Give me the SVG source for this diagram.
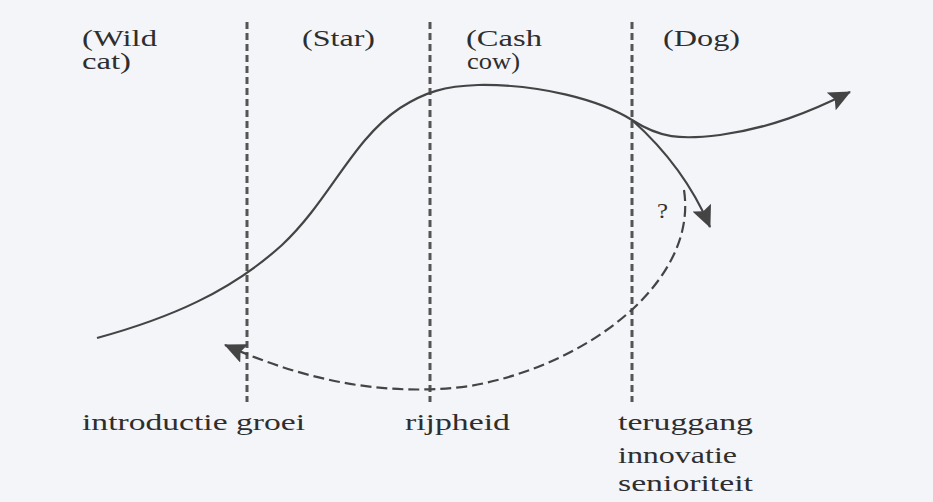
<svg xmlns="http://www.w3.org/2000/svg" width="933" height="502" viewBox="0 0 933 502">
<style>
.t{font-family:"Liberation Serif","Times New Roman",serif;font-size:23px;fill:#2e2e2e}
.div{stroke:#555;stroke-width:3;stroke-dasharray:7 4;fill:none}
.c{stroke:#444;stroke-width:2.2;fill:none}
.d{stroke:#444;stroke-width:2.2;fill:none;stroke-dasharray:11 5}
</style>
<defs>
<marker id="ah" markerUnits="userSpaceOnUse" markerWidth="24" markerHeight="20" refX="21" refY="10" orient="auto">
<path d="M0,0 L22,10 L0,20 L4,10 Z" fill="#444"/>
</marker>
</defs>
<rect width="933" height="502" fill="#f3f5f9"/>
<g id="dividers">
<line class="div" x1="247" y1="22" x2="247" y2="402"/>
<line class="div" x1="430" y1="22" x2="430" y2="402"/>
<line class="div" x1="632" y1="22" x2="632" y2="402"/>
</g>
<g id="labels-top">
<text class="t" x="82" y="46" textLength="75" lengthAdjust="spacingAndGlyphs">(Wild</text>
<text class="t" x="82" y="69" textLength="49" lengthAdjust="spacingAndGlyphs">cat)</text>
<text class="t" x="302" y="46" textLength="73" lengthAdjust="spacingAndGlyphs">(Star)</text>
<text class="t" x="466" y="46" textLength="76" lengthAdjust="spacingAndGlyphs">(Cash</text>
<text class="t" x="467" y="69" textLength="53" lengthAdjust="spacingAndGlyphs">cow)</text>
<text class="t" x="663" y="46" textLength="77" lengthAdjust="spacingAndGlyphs">(Dog)</text>
</g>
<g id="labels-bottom">
<text class="t" x="82" y="430" textLength="223" lengthAdjust="spacingAndGlyphs">introductie groei</text>
<text class="t" x="405" y="430" textLength="105" lengthAdjust="spacingAndGlyphs">rijpheid</text>
<text class="t" x="618" y="430" textLength="135" lengthAdjust="spacingAndGlyphs">teruggang</text>
<text class="t" x="618" y="463" textLength="119" lengthAdjust="spacingAndGlyphs">innovatie</text>
<text class="t" x="618" y="491" textLength="135" lengthAdjust="spacingAndGlyphs">senioriteit</text>
<text class="t" x="657" y="218" textLength="11" lengthAdjust="spacingAndGlyphs" style="font-size:22px">?</text>
</g>
<g id="connectors">
<path class="c" d="M97,338 C170,318 230,292 282,245 C330,200 352,140 400,108 C425,92 445,86 478,85 C540,84 600,100 632,120 C660,138 680,140 720,135 C770,128 810,112 850,92" marker-end="url(#ah)"/>
<path class="c" d="M632,120 C660,145 690,180 710,227" marker-end="url(#ah)"/>
<path class="d" d="M684,190 C698,280 590,365 470,386 C380,398 300,378 225,345" marker-end="url(#ah)"/>
</g>
</svg>
